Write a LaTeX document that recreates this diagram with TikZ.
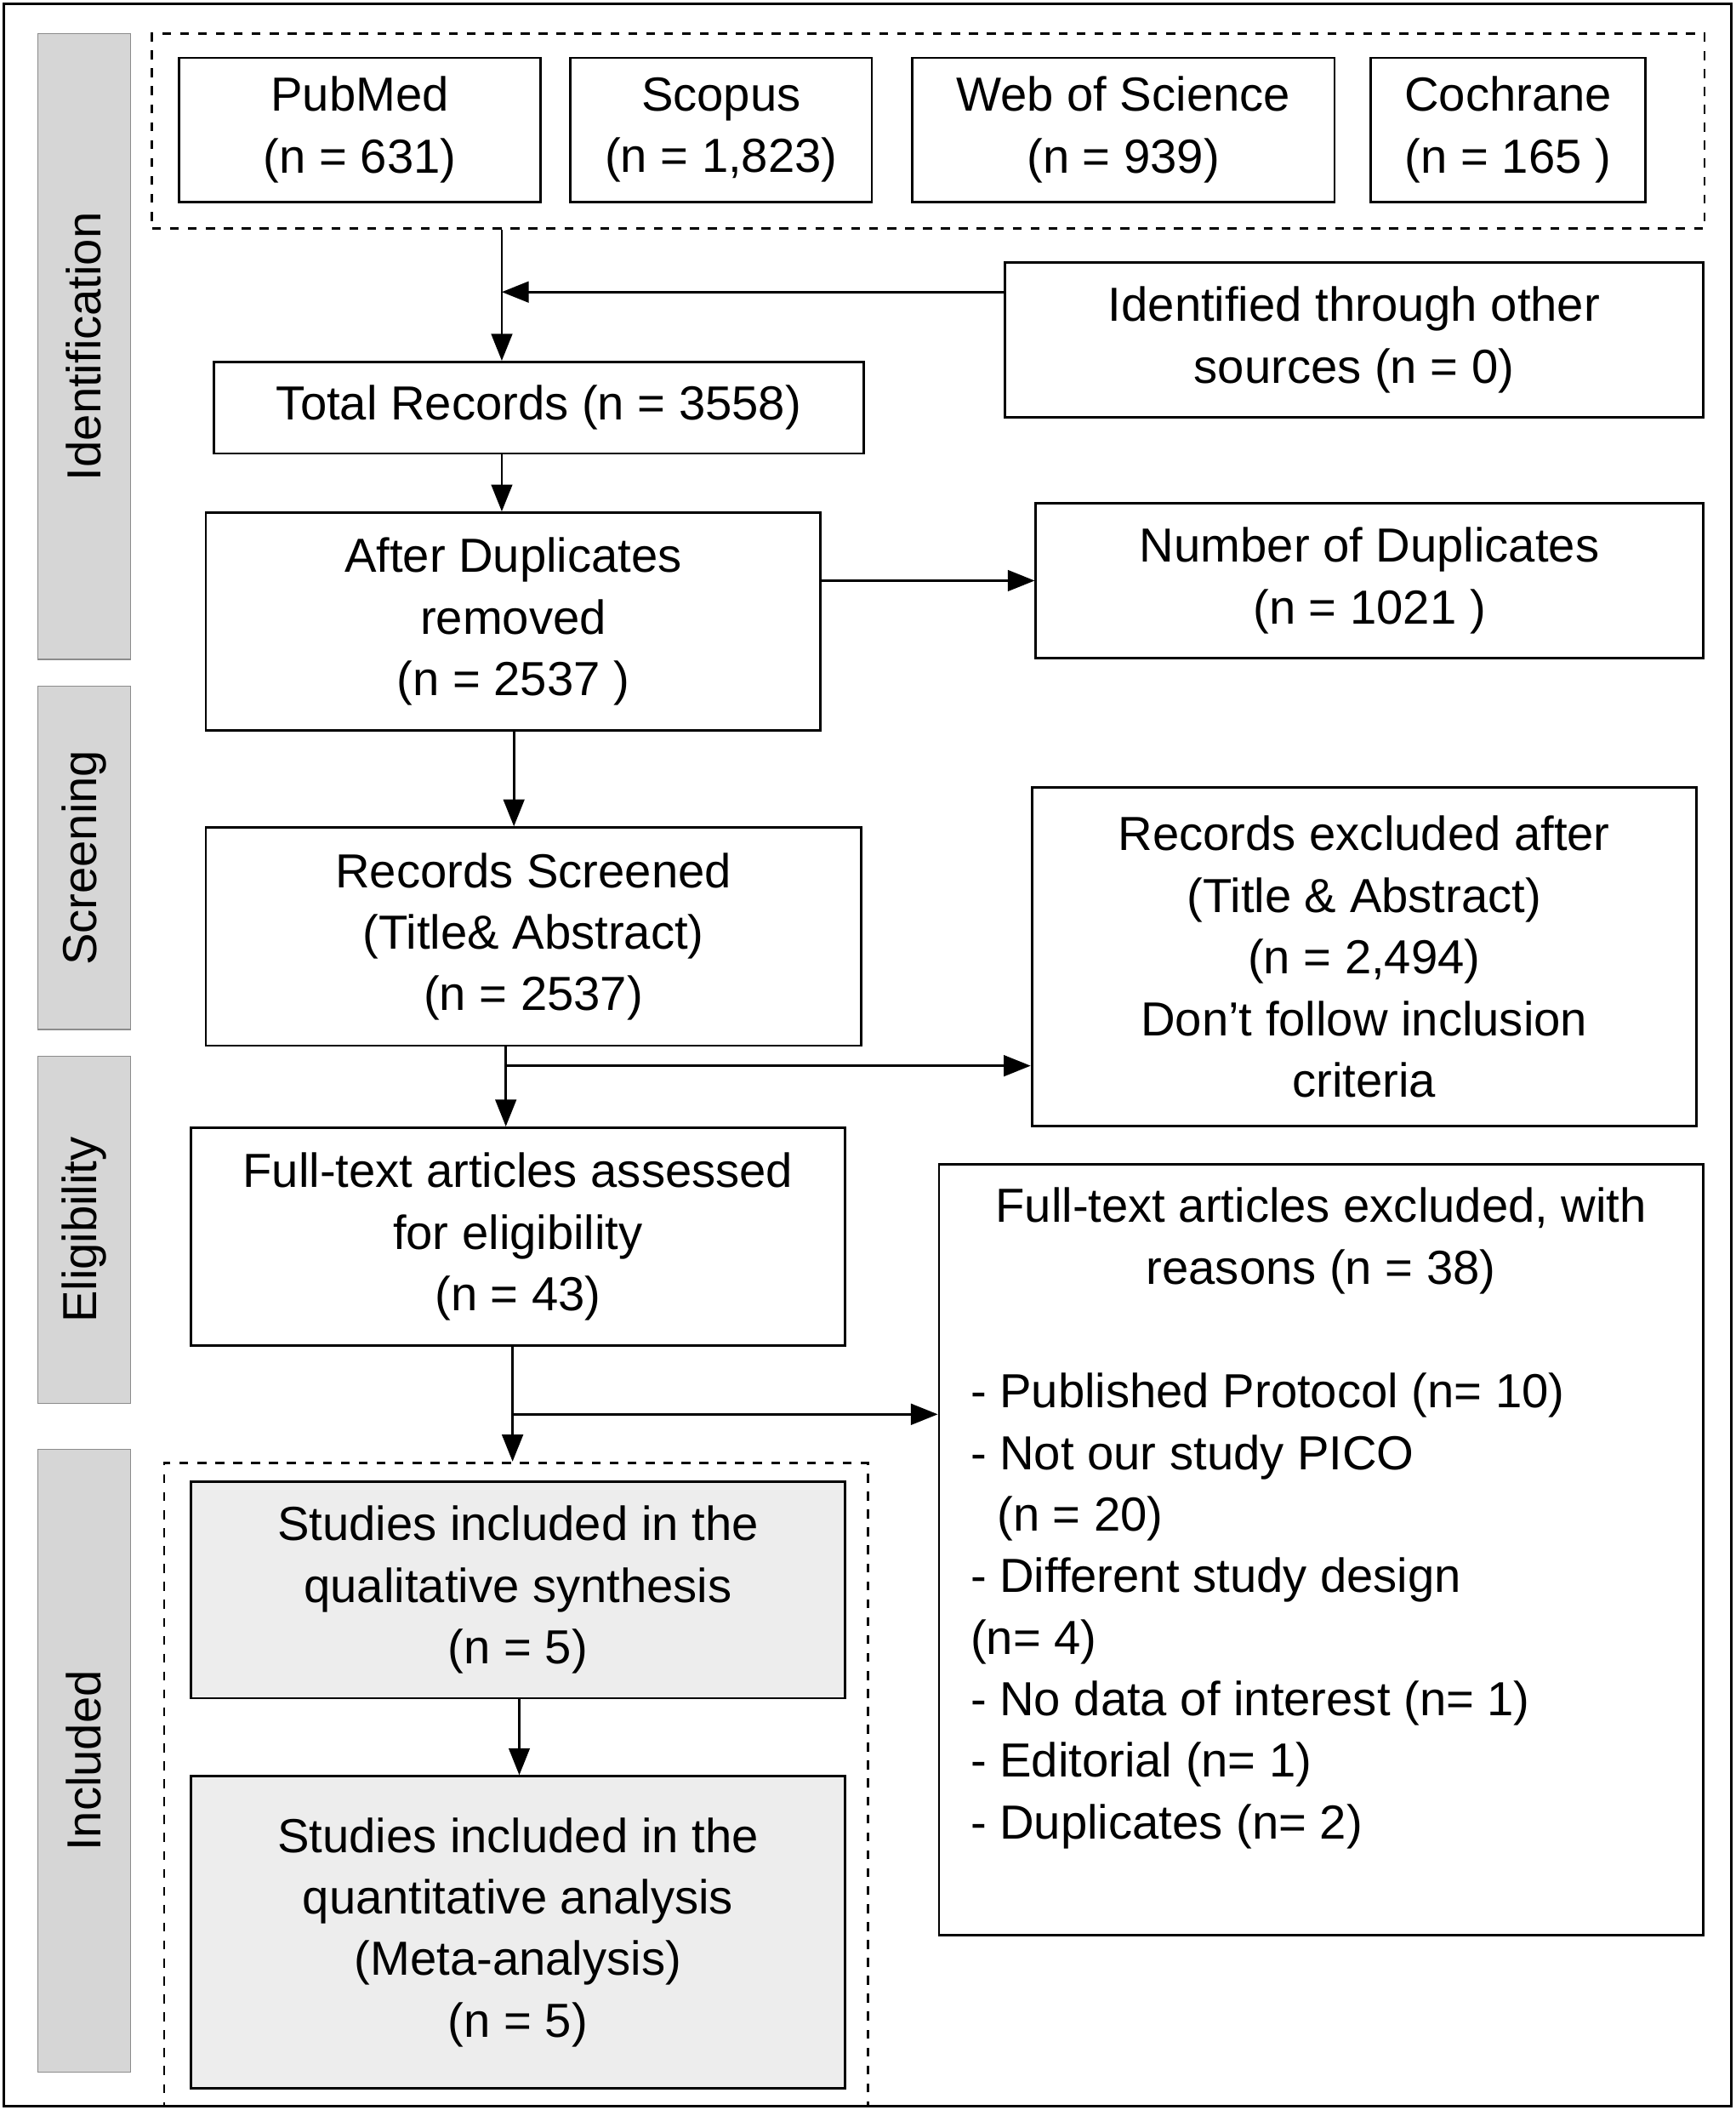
\documentclass[tikz,border=0pt]{standalone}
\usepackage{fontspec}
\setmainfont{Liberation Sans}
\usetikzlibrary{arrows.meta,fit}
\newcommand\px{0.01582cm}
\tikzset{
    box/.style={draw, thick, align=center, inner sep=2pt, font=\fontsize{16}{20.6}\selectfont},
    incl/.style={box, fill=black!7},
    side/.style={draw=black!45, fill=black!16, rotate=90, font=\fontsize{16}{20.6}\selectfont},
    frame/.style={draw, thick, dashed, inner sep=0pt},
    arr/.style={-{Triangle[length=9pt,width=7pt]}, thick}
}
\begin{document}
\begin{tikzpicture}[x=\px,y=-\px]
\useasboundingbox (0,0) rectangle (1290,1568);
\draw[thick] (3,3) rectangle (1287,1565);

% Phase labels
\node[side, minimum width={465*\px}, minimum height={69*\px}] (sid) at (62.5,257.5) {Identification};
\node[side, minimum width={255*\px}, minimum height={69*\px}] (sscr) at (62.5,637.5) {Screening};
\node[side, minimum width={258*\px}, minimum height={69*\px}] (selig) at (62.5,914) {Eligibility};
\node[side, minimum width={463*\px}, minimum height={69*\px}] (sinc) at (62.5,1308.5) {Included};

% Databases
\node[box, minimum width={269*\px}, minimum height={107*\px}] (pubmed) at (267.5,96.5) {PubMed\\(n = 631)};
\node[box, minimum width={224*\px}, minimum height={107*\px}] (scopus) at (536,96.5) {Scopus\\(n = 1,823)};
\node[box, minimum width={314*\px}, minimum height={107*\px}] (wos) at (835,96.5) {Web of Science\\(n = 939)};
\node[box, minimum width={204*\px}, minimum height={107*\px}] (cochrane) at (1121,96.5) {Cochrane\\(n = 165 )};
\coordinate (tl) at (113,25);
\coordinate (br) at (1267,170);
\node[frame, fit=(tl)(br)] (dbs) {};

% Flow boxes
\node[box, minimum width={519*\px}, minimum height={115*\px}] (other) at (1006.5,252.5) {Identified through other\\sources (n = 0)};
\node[box, minimum width={483*\px}, minimum height={68*\px}] (total) at (400.5,303) {Total Records (n = 3558)};
\node[box, minimum width={457*\px}, minimum height={162*\px}] (afterdup) at (381.5,462) {After Duplicates\\removed\\(n = 2537 )};
\node[box, minimum width={496*\px}, minimum height={115*\px}] (numdup) at (1018,431.5) {Number of Duplicates\\(n = 1021 )};
\node[box, minimum width={487*\px}, minimum height={162*\px}] (screened) at (396.5,696) {Records Screened\\(Title\& Abstract)\\(n = 2537)};
\node[box, minimum width={494*\px}, minimum height={252*\px}] (excl) at (1014,711) {Records excluded after\\(Title \& Abstract)\\(n = 2,494)\\Don’t follow inclusion\\criteria};
\node[box, minimum width={486*\px}, minimum height={162*\px}] (fulltext) at (385,919) {Full-text articles assessed\\for eligibility\\(n = 43)};
\node[box, minimum width={568*\px}, minimum height={573*\px}] (fullex) at (982,1151.5) {};
\node[font=\fontsize{16}{20.6}\selectfont, align=center] (fxhead) at (982,922) {Full-text articles excluded, with\\reasons (n = 38)};
\node[font=\fontsize{16}{20.6}\selectfont, align=left, anchor=north west, inner sep=0pt] (fxlist) at (721,1020) {- Published Protocol (n= 10)\\- Not our study PICO\\\ \ (n = 20)\\- Different study design\\(n= 4)\\- No data of interest (n= 1)\\- Editorial (n= 1)\\- Duplicates (n= 2)};
\node[incl, minimum width={486*\px}, minimum height={161*\px}] (qual) at (385,1181.5) {Studies included in the\\qualitative synthesis\\(n = 5)};
\node[incl, minimum width={486*\px}, minimum height={232*\px}] (quant) at (385,1436) {Studies included in the\\quantitative analysis\\(Meta-analysis)\\(n = 5)};
\coordinate (itl) at (122,1087);
\coordinate (ibr) at (645,1565);
\node[frame, fit=(itl)(ibr)] (incbox) {};

% Connectors
\coordinate (j1) at (373,217);
\coordinate (j2) at (376,792);
\coordinate (j3) at (381,1051);
\draw[arr] (dbs.south -| j1) -- (total.north -| j1);
\draw[arr] (other.west |- j1) -- (j1);
\draw[arr] (total.south -| j1) -- (afterdup.north -| j1);
\draw[arr] (afterdup.east |- numdup) -- (numdup.west);
\draw[arr] (afterdup.south -| 382,0) -- (screened.north -| 382,0);
\draw[arr] (screened.south -| j2) -- (fulltext.north -| j2);
\draw[arr] (j2) -- (excl.west |- j2);
\draw[arr] (fulltext.south -| j3) -- (incbox.north -| j3);
\draw[arr] (j3) -- (fullex.west |- j3);
\draw[arr] (qual.south -| 386,0) -- (quant.north -| 386,0);
\end{tikzpicture}
\end{document}
